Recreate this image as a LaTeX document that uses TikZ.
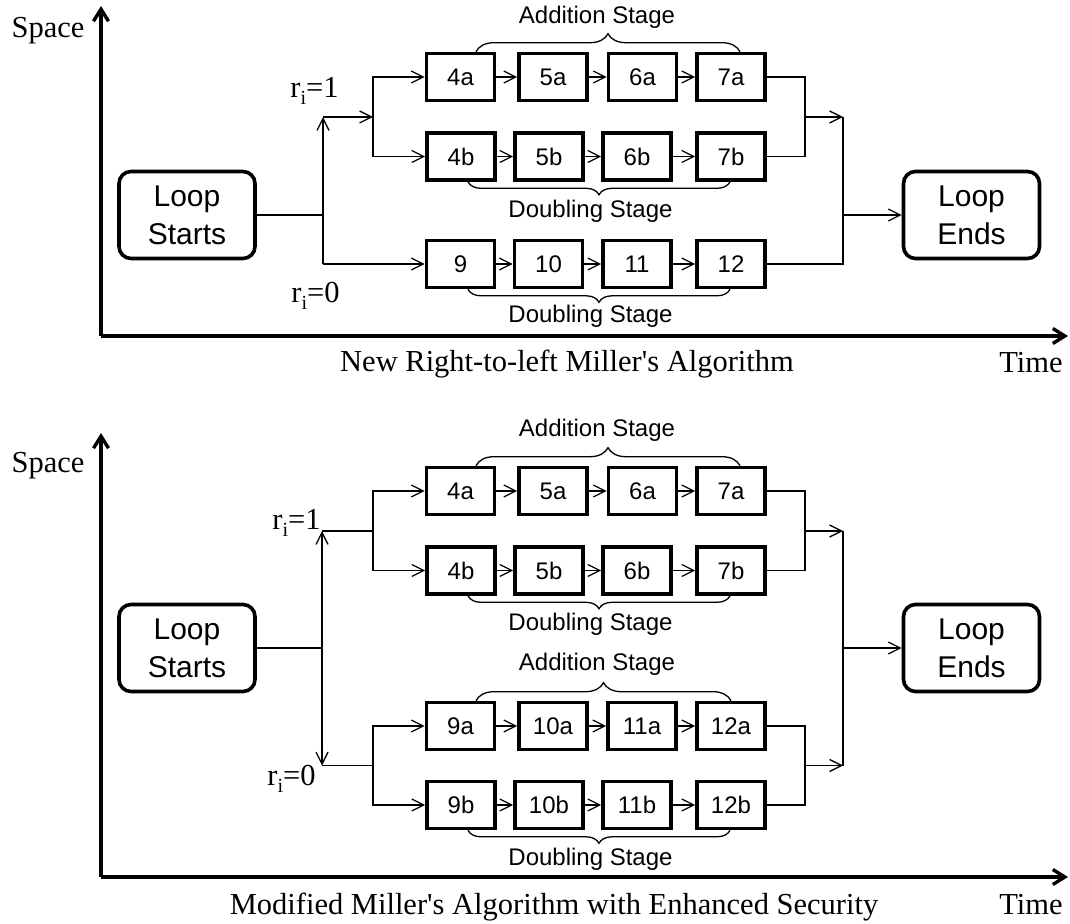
\documentclass[tikz,border=0pt]{standalone}
\usepackage{fontspec}
\setmainfont{Liberation Serif}
\setsansfont{Liberation Sans}
\usetikzlibrary{arrows.meta,decorations.pathreplacing}

% r with a lowered small i
\newcommand{\rsub}{r\raisebox{-3.5pt}{\fontsize{10}{10}\selectfont i}}

\tikzset{
  stepbox/.style={draw,line width=1.8pt,minimum width=34pt,minimum height=23.5pt,inner sep=0pt,
    font=\sffamily\fontsize{12}{14}\selectfont},
  loopbox/.style={draw,line width=1.8pt,rounded corners=6pt,minimum width=68pt,minimum height=43.5pt,
    inner sep=0pt,align=center,font=\sffamily\fontsize{15}{19}\selectfont},
  link/.style={line width=0.65pt},
  flow/.style={link,-{Straight Barb[length=6pt,width=6pt]}},
  twoway/.style={link,{Straight Barb[length=6pt,width=6pt]}-{Straight Barb[length=6pt,width=6pt]}},
  axis/.style={line width=1.7pt,-{Straight Barb[length=6pt,width=7.5pt]}},
  upbrace/.style={link,decorate,decoration={brace,amplitude=9pt}},
  downbrace/.style={link,decorate,decoration={brace,mirror,amplitude=6.5pt}},
  stagetext/.style={anchor=base,inner sep=0pt,font=\sffamily\fontsize{12}{14}\selectfont},
  serif/.style={inner sep=0pt,font=\rmfamily\fontsize{15.25}{18}\selectfont},
}

\begin{document}
\begin{tikzpicture}[x=0.5pt,y=-0.5pt]
  \useasboundingbox (0,0) rectangle (1070,924);

  % ---- right-to-left version
  \coordinate (torigin) at (101,336);
  \draw[axis] (torigin) -- (101,6);
  \draw[axis] (torigin) -- (1068,336);
  \node[serif,anchor=base] (tspace) at (48,38) {Space};
  \node[serif,anchor=base] (ttime) at (1031,373) {Time};
  \node[serif,anchor=base] (tcaption) at (567,372) {New Right-to-left Miller\textquotesingle s Algorithm};

  \node[loopbox] (tstart) at (187,215) {Loop\\Starts};
  \node[loopbox] (tend) at (971.5,215) {Loop\\Ends};

  \foreach \n/\x in {4a/460.5,5a/553,6a/642.5,7a/731}
    \node[stepbox] (t\n) at (\x,77) {\n};
  \foreach \n/\x in {4b/461,5b/549,6b/637,7b/731}
    \node[stepbox] (t\n) at (\x,156.5) {\n};
  \foreach \n/\x in {9/460.5,10/548.5,11/637,12/731}
    \node[stepbox] (t\n) at (\x,264) {\n};
  \foreach \a/\b in {4a/5a,5a/6a,6a/7a,4b/5b,5b/6b,6b/7b,9/10,10/11,11/12}
    \draw[flow] (t\a) -- (t\b);

  \coordinate (tsplit) at (323,215);
  \coordinate (tone) at (323,117);
  \coordinate (tzero) at (323,264);
  \coordinate (tfork) at (373,117);
  \coordinate (tjoin) at (805,117);
  \coordinate (tmerge) at (843,117);
  \coordinate (tout) at (843,215);

  \draw[link] (tstart) -- (tsplit);
  \draw[flow] (tzero) -- (tone);
  \draw[flow] (tone) -- (tfork);
  \draw[flow] (tfork) |- (t4a);
  \draw[flow] (tfork) |- (t4b);
  \draw[flow] (tzero) -- (t9);
  \draw[link] (t7a) -| (tjoin);
  \draw[link] (t7b) -| (tjoin);
  \draw[flow] (tjoin) -- (tmerge);
  \draw[link] (t12) -| (tmerge);
  \draw[flow] (tout) -- (tend);

  \node[serif,anchor=base west] (tonelabel) at (290,98) {\rsub=1};
  \node[serif,anchor=base west] (tzerolabel) at (291,303) {\rsub=0};

  \draw[upbrace] ([xshift=7.75pt]t4a.north) -- ([xshift=4.5pt]t7a.north);
  \draw[downbrace] ([xshift=3.5pt]t4b.south) -- ([xshift=-0.5pt]t7b.south);
  \draw[downbrace] ([xshift=3.75pt]t9.south) -- ([xshift=-0.5pt]t12.south);
  \node[stagetext] (tadd) at (597,24) {Addition Stage};
  \node[stagetext] (tdbl) at (590.5,218) {Doubling Stage};
  \node[stagetext] (tdblzero) at (590.5,323) {Doubling Stage};

  % ---- secured version
  \coordinate (borigin) at (101,877);
  \draw[axis] (borigin) -- (101,433);
  \draw[axis] (borigin) -- (1068,877);
  \node[serif,anchor=base] (bspace) at (48,473) {Space};
  \node[serif,anchor=base] (btime) at (1031,914) {Time};
  \node[serif,anchor=base] (bcaption) at (554,914) {Modified Miller\textquotesingle s Algorithm with Enhanced Security};

  \node[loopbox] (bstart) at (187,648) {Loop\\Starts};
  \node[loopbox] (bend) at (971.5,648) {Loop\\Ends};

  \foreach \n/\x in {4a/460.5,5a/553,6a/642.5,7a/731}
    \node[stepbox] (b\n) at (\x,491) {\n};
  \foreach \n/\x in {4b/461,5b/549,6b/637,7b/731}
    \node[stepbox] (b\n) at (\x,570.5) {\n};
  \foreach \n/\x in {9a/460.5,10a/553,11a/642,12a/731}
    \node[stepbox] (b\n) at (\x,726) {\n};
  \foreach \n/\x in {9b/461,10b/549,11b/637,12b/731}
    \node[stepbox] (b\n) at (\x,805) {\n};
  \foreach \a/\b in {4a/5a,5a/6a,6a/7a,4b/5b,5b/6b,6b/7b,9a/10a,10a/11a,11a/12a,9b/10b,10b/11b,11b/12b}
    \draw[flow] (b\a) -- (b\b);

  \coordinate (bsplit) at (322,648);
  \coordinate (bone) at (322,531);
  \coordinate (bzero) at (322,765.5);
  \coordinate (bforkone) at (373,531);
  \coordinate (bforkzero) at (373,765.5);
  \coordinate (bjoinone) at (805,531);
  \coordinate (bjoinzero) at (805,765.5);
  \coordinate (bmergeone) at (843,531);
  \coordinate (bmergezero) at (843,765.5);
  \coordinate (bout) at (843,648);

  \draw[link] (bstart) -- (bsplit);
  \draw[twoway] (bone) -- (bzero);
  \draw[link] (bone) -- (bforkone);
  \draw[link] (bzero) -- (bforkzero);
  \draw[flow] (bforkone) |- (b4a);
  \draw[flow] (bforkone) |- (b4b);
  \draw[flow] (bforkzero) |- (b9a);
  \draw[flow] (bforkzero) |- (b9b);
  \draw[link] (b7a) -| (bjoinone);
  \draw[link] (b7b) -| (bjoinone);
  \draw[link] (b12a) -| (bjoinzero);
  \draw[link] (b12b) -| (bjoinzero);
  \draw[flow] (bjoinone) -- (bmergeone);
  \draw[flow] (bjoinzero) -- (bmergezero);
  \draw[link] (bmergeone) -- (bmergezero);
  \draw[flow] (bout) -- (bend);

  \node[serif,anchor=base west] (bonelabel) at (272,530) {\rsub=1};
  \node[serif,anchor=base west] (bzerolabel) at (267,785) {\rsub=0};

  \draw[upbrace] ([xshift=7.75pt]b4a.north) -- ([xshift=4.5pt]b7a.north);
  \draw[downbrace] ([xshift=3.5pt]b4b.south) -- ([xshift=-0.5pt]b7b.south);
  \draw[upbrace] ([xshift=7.75pt]b9a.north) -- ([xshift=0pt]b12a.north);
  \draw[downbrace] ([xshift=3.5pt]b9b.south) -- ([xshift=-0.5pt]b12b.south);
  \node[stagetext] (badd) at (597,437) {Addition Stage};
  \node[stagetext] (bdbl) at (590.5,630) {Doubling Stage};
  \node[stagetext] (baddzero) at (597,670) {Addition Stage};
  \node[stagetext] (bdblzero) at (590.5,865) {Doubling Stage};
\end{tikzpicture}
\end{document}
